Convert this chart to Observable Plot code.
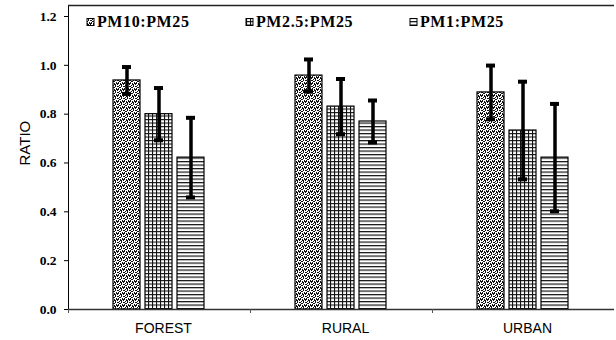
<!DOCTYPE html>
<html><head><meta charset="utf-8">
<script src="https://cdn.jsdelivr.net/npm/d3@7"></script>
<script src="https://cdn.jsdelivr.net/npm/@observablehq/plot@0.6"></script>
<style>
html,body{margin:0;background:#fff;overflow:hidden}
#chart{width:616px;height:340px}
#chart svg{display:block}
#chart g[aria-label="y-axis tick label"]{font-family:"Liberation Serif";font-weight:bold;font-size:13.5px}
#chart g[aria-label="fx-axis tick label"]{font-family:"Liberation Sans";font-size:14px}
</style>
</head><body><div id="chart"></div>
<script>
// ---- data ----
const categories = ["FOREST", "RURAL", "URBAN"];
const series = ["PM10:PM25", "PM2.5:PM25", "PM1:PM25"];
const meanPM10 = [0.938, 0.958, 0.889];
const meanPM25 = [0.800, 0.831, 0.733];
const meanPM1  = [0.622, 0.770, 0.622];
const errPM10 = [0.055, 0.066, 0.110];
const errPM25 = [0.107, 0.113, 0.200];
const errPM1  = [0.163, 0.086, 0.220];
const yTicks = [0, 0.2, 0.4, 0.6, 0.8, 1.0, 1.2];
const yMax = 1.245;
const yLabel = "RATIO";

const means = [meanPM10, meanPM25, meanPM1];
const errs = [errPM10, errPM25, errPM1];
const patternIds = ["pStipple", "pGrid", "pHoriz"];
const rows = [];
categories.forEach((c, i) => series.forEach((s, j) =>
  rows.push({category: c, series: s, mean: means[j][i], err: errs[j][i]})));

const W = 616, ML = 68, MR = 2;
const halfStep = (W - ML - MR) / categories.length / 2;

const plot = Plot.plot({
  width: W, height: 340,
  marginLeft: ML, marginRight: MR, marginTop: 5, marginBottom: 31,
  style: {background: "#fff", color: "#000"},
  fx: {domain: categories, padding: 0, axis: null},
  x: {domain: series, paddingInner: 0.154, paddingOuter: 1.387, axis: null},
  y: {domain: [0, yMax], axis: "left", ticks: yTicks, tickSize: 4, tickPadding: 8,
      tickFormat: d3.format(".1f"), label: null, line: true},
  marks: [
    ...series.map((s, j) => Plot.barY(rows.filter(d => d.series === s), {
      fx: "category", x: "series", y: "mean",
      fill: `url(#${patternIds[j]})`, stroke: "#000", strokeWidth: 1.2
    })),
    Plot.ruleX(rows, {fx: "category", x: "series", y1: d => d.mean - d.err, y2: d => d.mean + d.err, stroke: "#000", strokeWidth: 3.5}),
    Plot.tickY(rows, {fx: "category", x: "series", y: d => d.mean + d.err, stroke: "#000", strokeWidth: 4, insetLeft: 9, insetRight: 9}),
    Plot.tickY(rows, {fx: "category", x: "series", y: d => d.mean - d.err, stroke: "#000", strokeWidth: 4, insetLeft: 9, insetRight: 9}),
    Plot.ruleY([yMax], {stroke: "#222", strokeWidth: 1.3}),
    Plot.ruleY([0], {stroke: "#333", strokeWidth: 1.6}),
    // category labels
    Plot.axisFx({anchor: "bottom", tickSize: 0, tickPadding: 14, label: null, dx: 4}),
    // small ticks at the group boundaries
    Plot.axisFx({anchor: "bottom", tickSize: 4, tickFormat: () => "", label: null, dx: -halfStep, stroke: "#555"}),
    Plot.text([yLabel], {frameAnchor: "left", facetAnchor: "left", rotate: -90, dx: -43, dy: 8,
      fontFamily: "Liberation Sans", fontSize: 15})
  ]
});

const svg = d3.select(plot);
const defs = svg.insert("defs", ":first-child");
// stipple
const p0 = defs.append("pattern").attr("id", "pStipple").attr("patternUnits", "userSpaceOnUse").attr("width", 6).attr("height", 6);
p0.append("rect").attr("width", 6).attr("height", 6).attr("fill", "#fff");
[[0,0,2,1],[3,0,1,1],[5,1,1,1],[1,2,1,1],[3,2,2,1],[0,3,1,1],[4,4,1,1],[2,4,1,1],[0,5,1,1],[3,5,2,1],[5,3,1,1],[1,1,1,1],[2,5,1,1]]
  .forEach(([x, y, w, h]) => p0.append("rect").attr("x", x).attr("y", y).attr("width", w).attr("height", h).attr("fill", "#111"));
// grid
const p1 = defs.append("pattern").attr("id", "pGrid").attr("patternUnits", "userSpaceOnUse").attr("width", 4).attr("height", 3.5);
p1.append("rect").attr("width", 4).attr("height", 3.5).attr("fill", "#fff");
p1.append("rect").attr("width", 1.1).attr("height", 3.5).attr("fill", "#111");
p1.append("rect").attr("width", 4).attr("height", 1.1).attr("fill", "#111");
// horizontal
const p2 = defs.append("pattern").attr("id", "pHoriz").attr("patternUnits", "userSpaceOnUse").attr("width", 4).attr("height", 3.5);
p2.append("rect").attr("width", 4).attr("height", 3.5).attr("fill", "#fff");
p2.append("rect").attr("width", 4).attr("height", 1.2).attr("fill", "#111");

// legend
const legendX = [87, 246, 410];
series.forEach((s, j) => {
  const g = svg.append("g").attr("transform", `translate(${legendX[j]},0)`);
  g.append("rect").attr("x", 0).attr("y", 18.5).attr("width", 7).attr("height", 7)
    .attr("fill", `url(#${patternIds[j]})`).attr("stroke", "#000").attr("stroke-width", 1);
  g.append("text").attr("x", 10).attr("y", 27).text(s).attr("text-anchor", "start")
    .attr("font-family", "Liberation Serif").attr("font-weight", "bold").attr("font-size", 16)
    .attr("letter-spacing", 0.6).attr("fill", "#000");
});

document.getElementById("chart").append(plot);
</script>
</body></html>
